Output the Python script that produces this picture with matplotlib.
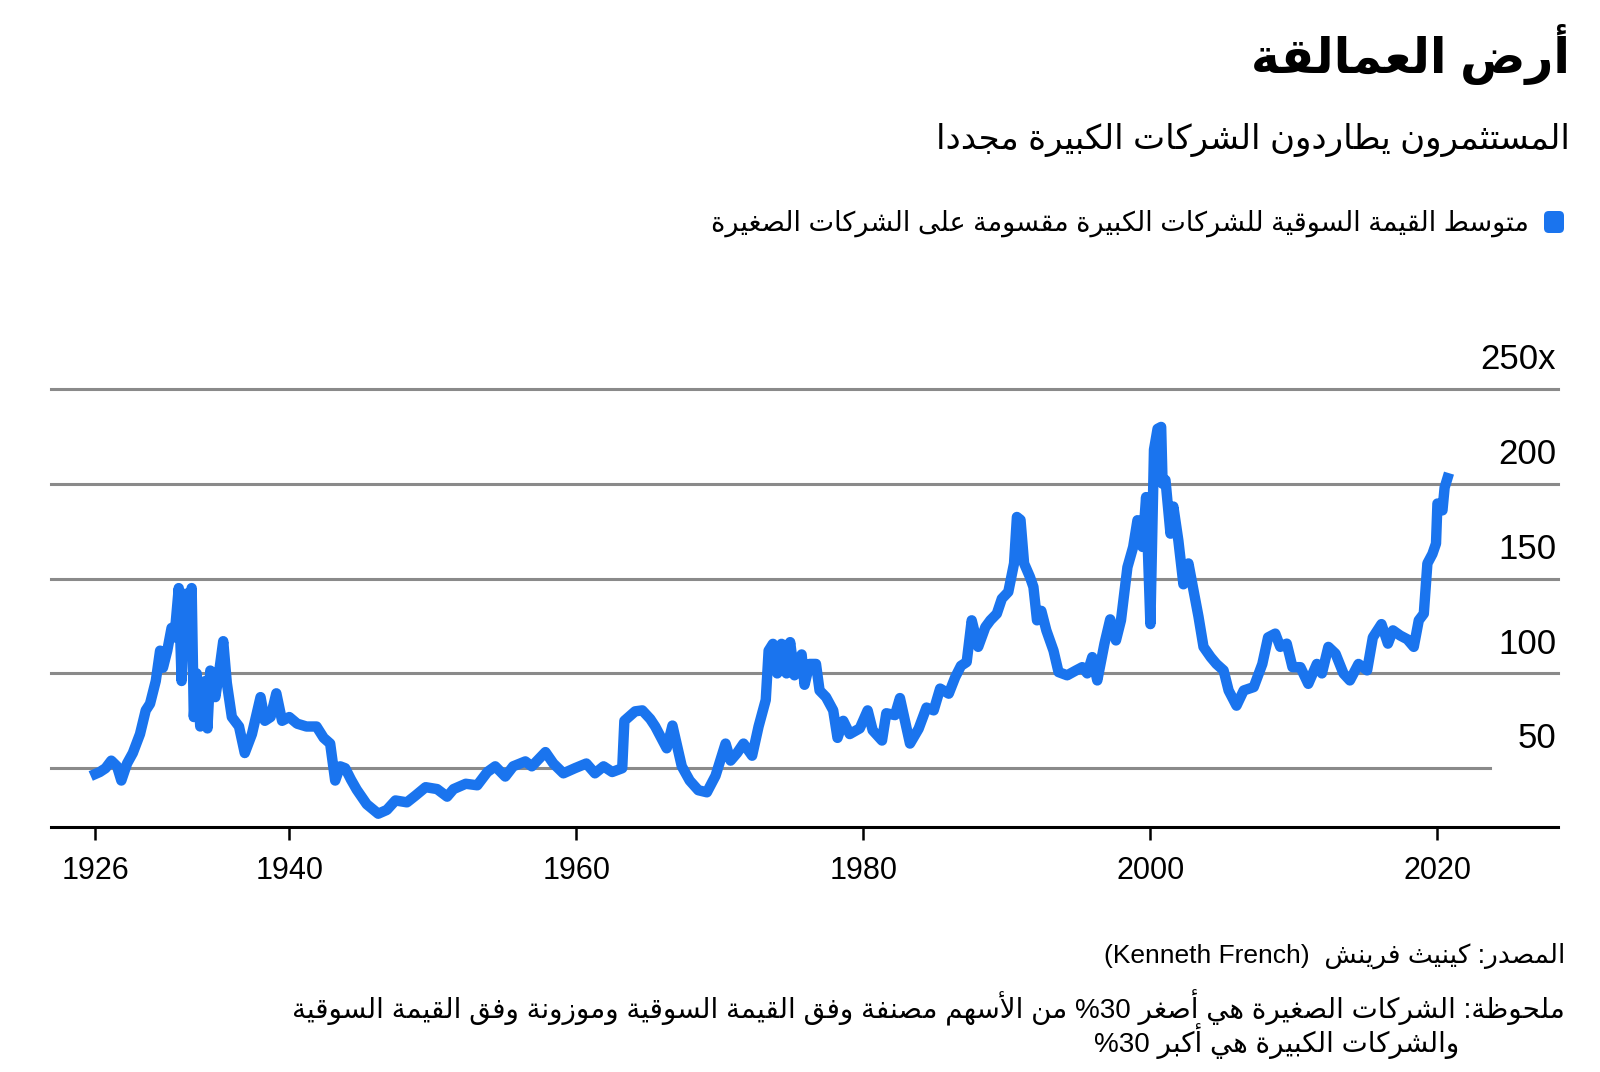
import re
import matplotlib
matplotlib.use('Agg')
import matplotlib.pyplot as plt
from matplotlib.patches import FancyBboxPatch

# data: large / small cap average market value ratio
years = [1926.5, 1926.8, 1927.2, 1927.6, 1928.0, 1928.3, 1928.7, 1929.1, 1929.6, 1930.0,
         1930.3, 1930.7, 1931.0, 1931.2, 1931.5, 1931.8, 1932.0, 1932.3, 1932.5, 1932.75,
         1932.9, 1933.2, 1933.35, 1933.55, 1933.8, 1934.15, 1934.3, 1934.5, 1934.85, 1935.1,
         1935.4, 1935.65, 1936.0, 1936.5, 1936.9, 1937.4, 1938.0, 1938.3, 1938.7, 1939.1,
         1939.5, 1940.0, 1940.55, 1941.2, 1941.9, 1942.4, 1942.85, 1943.2, 1943.55, 1943.9,
         1944.3, 1944.7, 1945.4, 1946.2, 1946.8, 1947.4, 1948.2, 1948.8, 1949.5, 1950.3,
         1951.0, 1951.45, 1952.3, 1953.1, 1953.8, 1954.35, 1955.05, 1955.6, 1956.45, 1956.9,
         1957.85, 1958.4, 1959.1, 1959.9, 1960.7, 1961.3, 1961.9, 1962.5, 1963.2, 1963.35,
         1964.1, 1964.6, 1965.15, 1965.5, 1966.3, 1966.7, 1967.35, 1967.9, 1968.5, 1969.1,
         1969.7, 1970.4, 1970.75, 1971.2, 1971.65, 1972.25, 1972.7, 1973.2, 1973.4, 1973.7,
         1974.0, 1974.3, 1974.65, 1974.9, 1975.2, 1975.7, 1975.9, 1976.25, 1976.7, 1976.95,
         1977.4, 1977.9, 1978.2, 1978.6, 1979.05, 1979.75, 1980.3, 1980.65, 1981.3, 1981.6,
         1982.2, 1982.55, 1982.9, 1983.25, 1983.85, 1984.4, 1984.9, 1985.35, 1985.95, 1986.4,
         1986.8, 1987.2, 1987.55, 1988.0, 1988.5, 1988.85, 1989.3, 1989.65, 1990.1, 1990.5,
         1990.7, 1990.95, 1991.2, 1991.6, 1991.85, 1992.1, 1992.4, 1992.75, 1993.25, 1993.6,
         1994.2, 1994.8, 1995.25, 1995.6, 1995.95, 1996.3, 1996.8, 1997.2, 1997.6, 1997.95,
         1998.4, 1998.8, 1999.1, 1999.45, 1999.7, 2000.0, 2000.25, 2000.5, 2000.75, 2000.85,
         2001.05, 2001.4, 2001.6, 2001.95, 2002.3, 2002.65, 2003.0, 2003.35, 2003.7, 2004.2,
         2004.6, 2005.1, 2005.45, 2006.0, 2006.5, 2007.2, 2007.8, 2008.2, 2008.7, 2009.05,
         2009.5, 2009.9, 2010.45, 2011.0, 2011.6, 2011.95, 2012.4, 2012.9, 2013.45, 2013.9,
         2014.5, 2015.1, 2015.5, 2016.1, 2016.55, 2016.9, 2017.4, 2017.9, 2018.35, 2018.7,
         2019.05, 2019.3, 2019.65, 2019.9, 2020.0, 2020.35, 2020.5, 2020.7]
ratio = [47, 48, 50, 54, 51, 43.5, 52.5, 58, 68, 80.5,
         84, 96, 112, 103, 112, 124, 119, 145, 96, 142,
         116, 145, 77, 100, 72, 96, 71, 101.5, 87.5, 100,
         117, 95, 77, 72, 58, 68, 87.5, 75, 77, 89.5,
         75, 77, 73.5, 72, 72, 66, 63, 43.5, 51, 50,
         44, 38.7, 31, 26, 28, 33, 32, 35.6, 40, 39,
         35, 39, 41.8, 41, 48, 51, 45.6, 51, 53.6, 51,
         58.5, 52.5, 47.3, 50, 52.5, 47.3, 51, 48, 50, 75,
         80, 80.5, 76, 72, 60.5, 72.5, 51, 43.5, 38.4, 37.3,
         46, 63, 54, 58, 63, 56.6, 72, 86, 112, 115.6,
         100, 115.6, 100, 116.5, 99, 110, 94, 105, 105, 91,
         87.5, 80.5, 66, 75, 68, 71, 80.5, 70, 64.6, 79,
         78, 87, 75, 63, 70.8, 82, 80.5, 92, 89.3, 98,
         104, 106, 128, 114, 124.4, 128, 131.5, 139.4, 143, 158,
         182.5, 181, 158, 151, 145.6, 128, 133, 122.7, 112, 100.7,
         99, 101.5, 103.3, 100, 108.6, 96.3, 115.7, 128.5, 117.4, 128,
         156, 166.7, 180.8, 166.7, 193, 126, 218, 229, 230, 200,
         202, 173.7, 188, 170, 147, 158, 144, 130, 114, 108.6,
         105, 101.6, 91, 83, 91, 92.8, 105, 119, 121, 114,
         115.7, 103.3, 103.3, 94.5, 105, 100, 114, 110.4, 100, 96.3,
         105, 101.6, 119, 126, 115.7, 122.7, 120, 118, 114, 128,
         131.5, 158, 163, 168.5, 189.6, 186, 198, 203]

grid_values = [50, 100, 150, 200, 250]
y_labels = ['50', '100', '150', '200', '250x']
x_ticks = [1926.5, 1940, 1960, 1980, 2000, 2020]
x_labels = ['1926', '1940', '1960', '1980', '2000', '2020']

title = 'أرض العمالقة'
subtitle = 'المستثمرون يطاردون الشركات الكبيرة مجددا'
legend_label = 'متوسط القيمة السوقية للشركات الكبيرة مقسومة على الشركات الصغيرة'
source = 'المصدر: كينيث فرينش  (Kenneth French)'
note_1 = 'ملحوظة: الشركات الصغيرة هي أصغر 30% من الأسهم مصنفة وفق القيمة السوقية وموزونة وفق القيمة السوقية'
note_2 = 'والشركات الكبيرة هي أكبر 30%'

BLUE = '#1a74ee'

# matplotlib has no arabic shaping, so map letters to presentation forms by hand
AR_FORMS = {
    '\u0621': (0xFE80, 1), '\u0622': (0xFE81, 2), '\u0623': (0xFE83, 2), '\u0624': (0xFE85, 2),
    '\u0625': (0xFE87, 2), '\u0626': (0xFE89, 4), '\u0627': (0xFE8D, 2), '\u0628': (0xFE8F, 4),
    '\u0629': (0xFE93, 2), '\u062A': (0xFE95, 4), '\u062B': (0xFE99, 4), '\u062C': (0xFE9D, 4),
    '\u062D': (0xFEA1, 4), '\u062E': (0xFEA5, 4), '\u062F': (0xFEA9, 2), '\u0630': (0xFEAB, 2),
    '\u0631': (0xFEAD, 2), '\u0632': (0xFEAF, 2), '\u0633': (0xFEB1, 4), '\u0634': (0xFEB5, 4),
    '\u0635': (0xFEB9, 4), '\u0636': (0xFEBD, 4), '\u0637': (0xFEC1, 4), '\u0638': (0xFEC5, 4),
    '\u0639': (0xFEC9, 4), '\u063A': (0xFECD, 4), '\u0641': (0xFED1, 4), '\u0642': (0xFED5, 4),
    '\u0643': (0xFED9, 4), '\u0644': (0xFEDD, 4), '\u0645': (0xFEE1, 4), '\u0646': (0xFEE5, 4),
    '\u0647': (0xFEE9, 4), '\u0648': (0xFEED, 2), '\u0649': (0xFEEF, 2), '\u064A': (0xFEF1, 4),
}
LAM_ALEF = {'\u0622': 0xFEF5, '\u0623': 0xFEF7, '\u0625': 0xFEF9, '\u0627': 0xFEFB}
LTR_RUN = r'[A-Za-z0-9]+(?: [A-Za-z0-9]+)*'


def shape(text):
    chars = []
    i = 0
    while i < len(text):
        if text[i] == '\u0644' and i + 1 < len(text) and text[i + 1] in LAM_ALEF:
            chars.append(('LA', text[i + 1]))
            i += 2
        else:
            chars.append((text[i], None))
            i += 1
    out = []
    for k, (c, alef) in enumerate(chars):
        prev = chars[k - 1][0] if k > 0 else None
        nxt = chars[k + 1][0] if k + 1 < len(chars) else None
        joins_prev = prev in AR_FORMS and AR_FORMS[prev][1] == 4
        if c == 'LA':
            out.append(chr(LAM_ALEF[alef] + (1 if joins_prev else 0)))
            continue
        if c not in AR_FORMS:
            out.append(c)
            continue
        base, n = AR_FORMS[c]
        joins_next = n == 4 and (nxt == 'LA' or (nxt in AR_FORMS and nxt != '\u0621'))
        if n == 1:
            out.append(chr(base))
        elif joins_prev and joins_next:
            out.append(chr(base + 3))
        elif joins_prev:
            out.append(chr(base + 1))
        elif joins_next:
            out.append(chr(base + 2))
        else:
            out.append(chr(base))
    return ''.join(out)


def rtl(text):
    parts = re.split('(' + LTR_RUN + ')', text)
    out = []
    for p in parts[::-1]:
        if re.fullmatch(LTR_RUN, p):
            out.append(p)
        else:
            out.append(shape(p)[::-1].translate(str.maketrans('()', ')(')))
    return ''.join(out)


plt.rcParams['font.family'] = ['Liberation Sans', 'DejaVu Sans']

W, H = 1600, 1072
fig = plt.figure(figsize=(W / 100, H / 100), dpi=100)


def fx(px):
    return px / W


def fy(py):
    return 1 - py / H


ax_left, ax_right, ax_top, ax_bottom = 51, 1558, 389, 827
ax = fig.add_axes([fx(ax_left), fy(ax_bottom), fx(ax_right - ax_left), (ax_bottom - ax_top) / H])
ax.set_xlim(1923.4, 2028.4)
ax.set_ylim(19, 250)

for v in grid_values:
    xmax = (1490 - ax_left) / (ax_right - ax_left) if v == 50 else 1
    ax.axhline(v, xmin=0, xmax=xmax, color='#8a8a8a', lw=2.2, clip_on=False, zorder=1)
for v, lab in zip(grid_values, y_labels):
    ax.text(0.9987, v + 15.5, lab, transform=ax.get_yaxis_transform(), ha='right', va='center',
            fontsize=25, color='black')

ax.plot(years, ratio, color=BLUE, lw=7.5, solid_joinstyle='round', zorder=3)

for side in ['top', 'left', 'right']:
    ax.spines[side].set_visible(False)
ax.spines['bottom'].set_linewidth(2.2)
ax.set_yticks([])
ax.set_xticks(x_ticks)
ax.set_xticklabels(x_labels, fontsize=22)
ax.tick_params(axis='x', length=9, width=1.8, pad=12)

fig.text(fx(1570), fy(73), rtl(title), ha='right', va='baseline', fontsize=35, fontweight='bold')
fig.text(fx(1570), fy(149), rtl(subtitle), ha='right', va='baseline', fontsize=24.5)
fig.add_artist(FancyBboxPatch((fx(1544), fy(233)), fx(20), 22 / H,
                              boxstyle='round,pad=0,rounding_size=0.003', mutation_aspect=1.5,
                              transform=fig.transFigure, facecolor=BLUE, edgecolor='none'))
fig.text(fx(1529), fy(231), rtl(legend_label), ha='right', va='baseline', fontsize=19.5)
fig.text(fx(1565), fy(963), rtl(source), ha='right', va='baseline', fontsize=19)
fig.text(fx(1565), fy(1018), rtl(note_1), ha='right', va='baseline', fontsize=20)
fig.text(fx(1459), fy(1052), rtl(note_2), ha='right', va='baseline', fontsize=20)

fig.savefig('out.png', dpi=100)
